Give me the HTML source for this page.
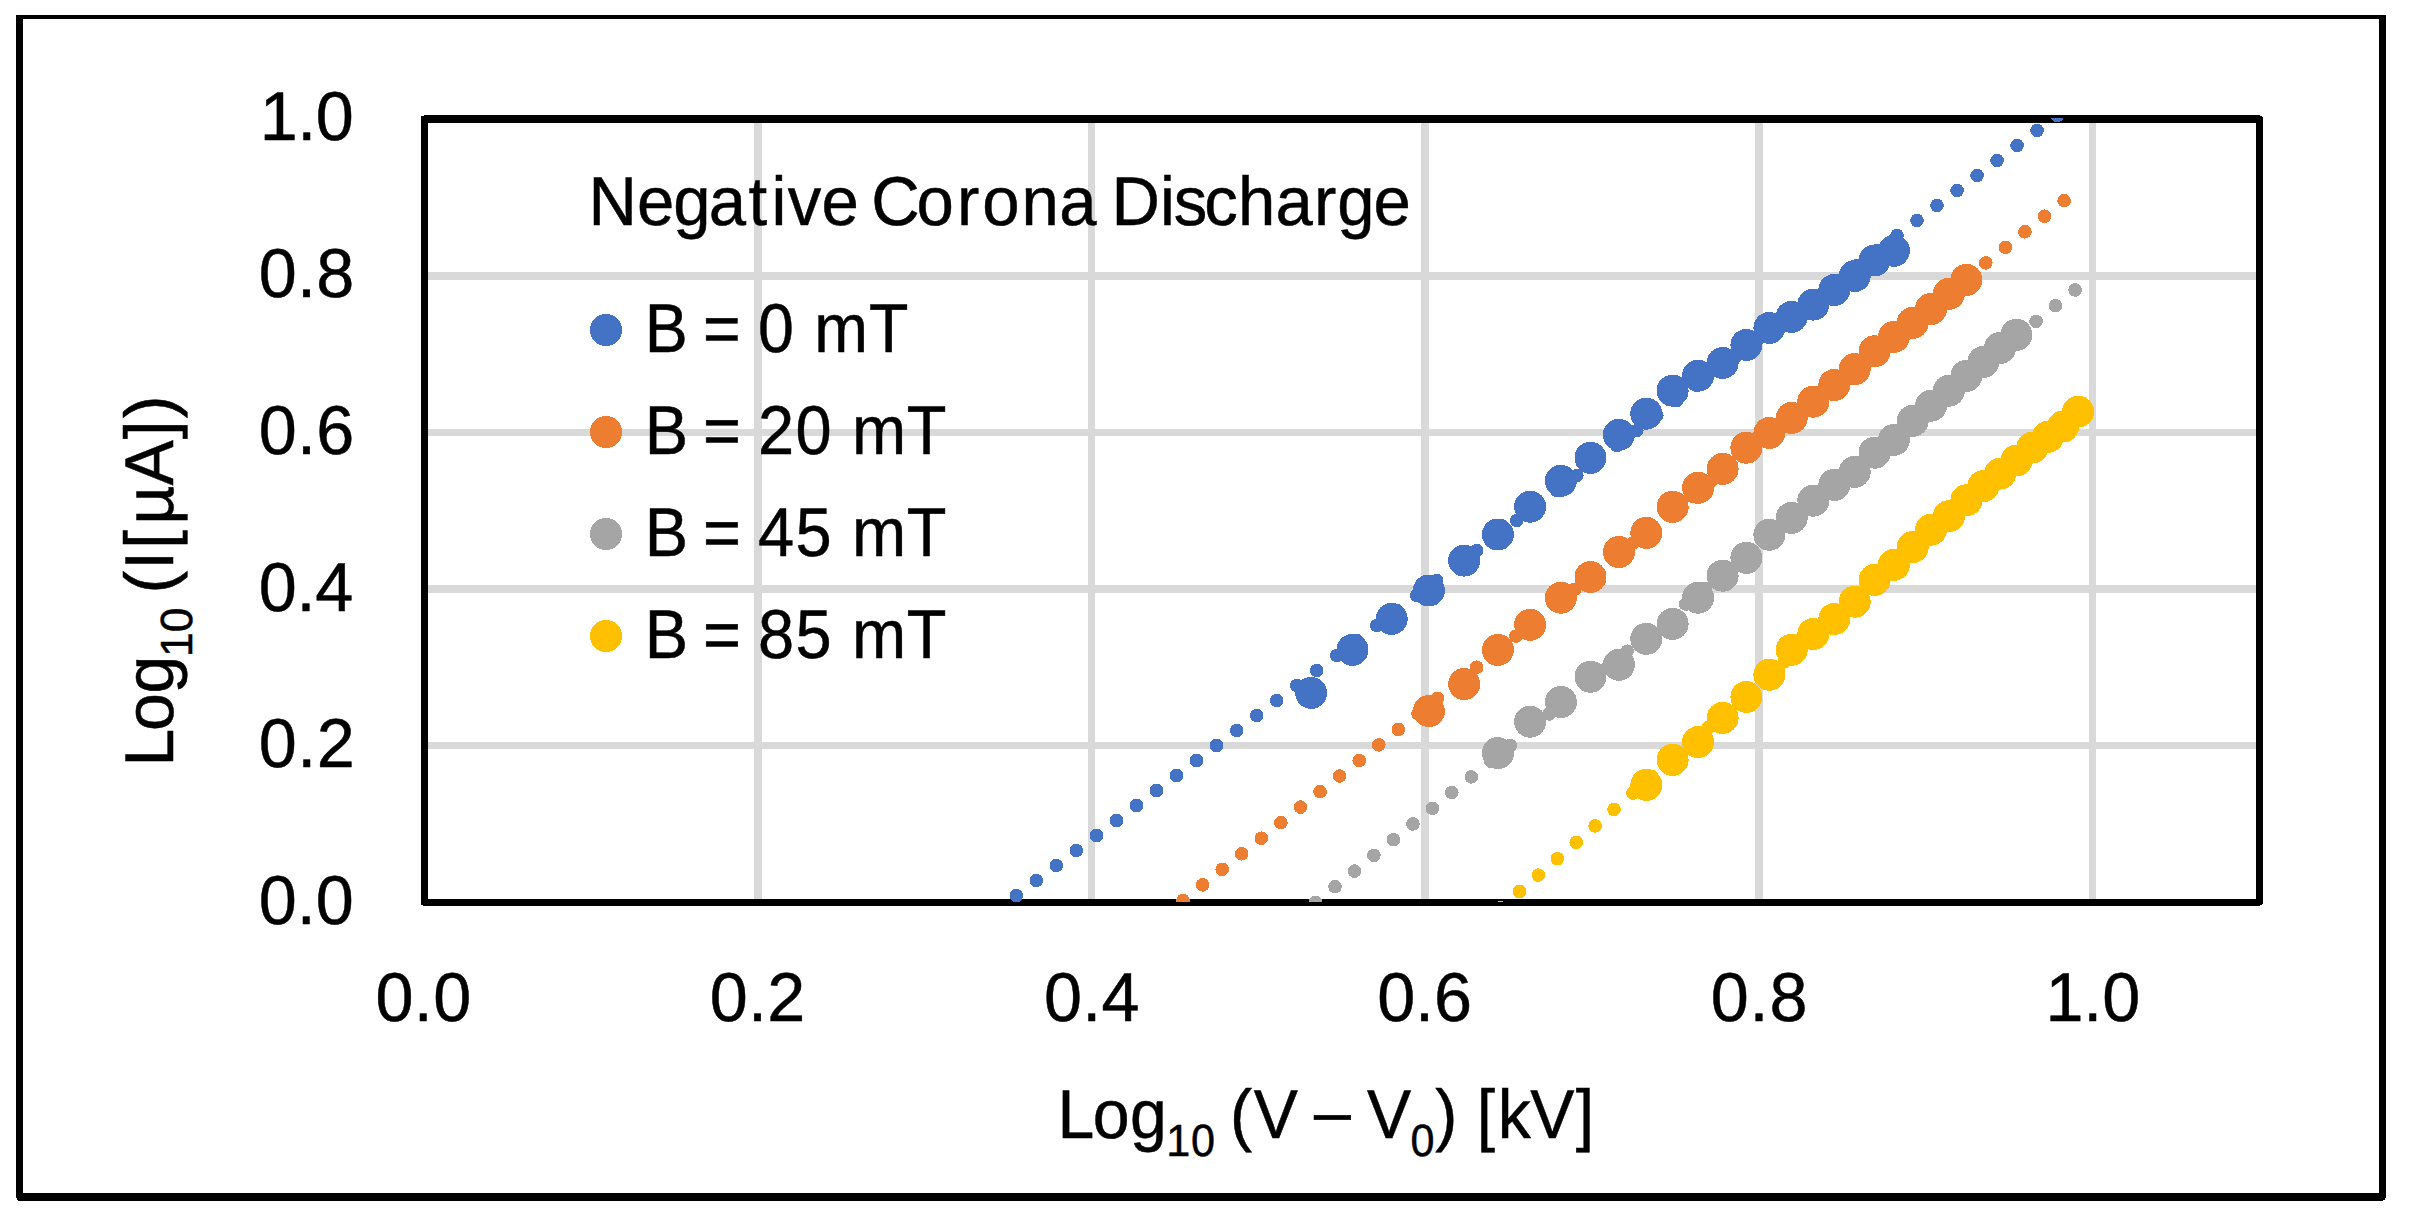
<!DOCTYPE html>
<html lang="en"><head><meta charset="utf-8"><title>Negative Corona Discharge</title>
<style>
html,body{margin:0;padding:0;background:#fff;}
body{width:2412px;height:1222px;overflow:hidden;}
svg{display:block;}
circle{shape-rendering:crispEdges;}
text{font-family:"Liberation Sans", sans-serif;fill:#000;stroke:#000;stroke-width:0.5px;white-space:pre;text-rendering:geometricPrecision;}
</style></head><body>
<svg width="2412" height="1222" viewBox="0 0 2412 1222">
<rect width="2412" height="1222" fill="#fff"/>
<path fill="#000" fill-rule="evenodd" shape-rendering="crispEdges" d="M16 15H2386V1198H2385V1200H2383V1201H18V1200H17V1198H16Z M23 19H2379V1193H23Z"/>
<g fill="#D9D9D9">
<rect x="754" y="123" width="8" height="776"/>
<rect x="1088" y="123" width="7" height="776"/>
<rect x="1421" y="123" width="8" height="776"/>
<rect x="1755" y="123" width="8" height="776"/>
<rect x="2089" y="123" width="7" height="776"/>
<rect x="428" y="272" width="1828" height="8"/>
<rect x="428" y="429" width="1828" height="7"/>
<rect x="428" y="585" width="1828" height="8"/>
<rect x="428" y="742" width="1828" height="7"/>
</g>
<path fill="#000" fill-rule="evenodd" shape-rendering="crispEdges" d="M424 115H2260V116H2262V117H2263V904H2262V905H2260V906H423V905H421V116H424Z M428 123H2256V899H428Z"/>
<defs><clipPath id="pc"><rect x="424" y="118" width="1836" height="784"/></clipPath></defs>
<g fill="#4472C4">
<circle cx="1311.1" cy="692.9" r="16.0"/>
<circle cx="1352.5" cy="649.9" r="16.0"/>
<circle cx="1391.7" cy="618.9" r="16.0"/>
<circle cx="1428.9" cy="590.5" r="16.0"/>
<circle cx="1464.2" cy="560.6" r="16.0"/>
<circle cx="1497.9" cy="534.5" r="16.0"/>
<circle cx="1530.1" cy="506.7" r="16.0"/>
<circle cx="1560.9" cy="480.8" r="16.0"/>
<circle cx="1590.5" cy="457.8" r="16.0"/>
<circle cx="1618.9" cy="434.8" r="16.0"/>
<circle cx="1646.3" cy="413.7" r="16.0"/>
<circle cx="1672.6" cy="390.7" r="16.0"/>
<circle cx="1698.1" cy="375.7" r="16.0"/>
<circle cx="1722.6" cy="363.0" r="16.0"/>
<circle cx="1746.4" cy="345.0" r="16.0"/>
<circle cx="1769.4" cy="328.0" r="16.0"/>
<circle cx="1791.7" cy="316.8" r="16.0"/>
<circle cx="1813.3" cy="304.6" r="16.0"/>
<circle cx="1834.3" cy="290.0" r="16.0"/>
<circle cx="1854.7" cy="276.0" r="16.0"/>
<circle cx="1874.6" cy="260.5" r="16.0"/>
<circle cx="1893.9" cy="250.8" r="16.0"/>
</g>
<g fill="#ED7D31">
<circle cx="1428.9" cy="711.1" r="16.0"/>
<circle cx="1464.2" cy="684.0" r="16.0"/>
<circle cx="1497.9" cy="649.9" r="16.0"/>
<circle cx="1530.1" cy="624.8" r="16.0"/>
<circle cx="1560.9" cy="597.7" r="16.0"/>
<circle cx="1590.5" cy="577.0" r="16.0"/>
<circle cx="1618.9" cy="552.0" r="16.0"/>
<circle cx="1646.3" cy="532.9" r="16.0"/>
<circle cx="1672.6" cy="506.8" r="16.0"/>
<circle cx="1698.1" cy="487.8" r="16.0"/>
<circle cx="1722.6" cy="468.9" r="16.0"/>
<circle cx="1746.4" cy="447.7" r="16.0"/>
<circle cx="1769.4" cy="433.0" r="16.0"/>
<circle cx="1791.7" cy="417.9" r="16.0"/>
<circle cx="1813.3" cy="401.7" r="16.0"/>
<circle cx="1834.3" cy="385.0" r="16.0"/>
<circle cx="1854.7" cy="369.1" r="16.0"/>
<circle cx="1874.6" cy="351.3" r="16.0"/>
<circle cx="1893.9" cy="336.9" r="16.0"/>
<circle cx="1912.7" cy="322.8" r="16.0"/>
<circle cx="1931.0" cy="308.9" r="16.0"/>
<circle cx="1948.9" cy="293.8" r="16.0"/>
<circle cx="1966.4" cy="279.9" r="16.0"/>
</g>
<g fill="#A5A5A5">
<circle cx="1497.9" cy="753.1" r="16.0"/>
<circle cx="1530.1" cy="721.7" r="16.0"/>
<circle cx="1560.9" cy="702.0" r="16.0"/>
<circle cx="1590.5" cy="676.7" r="16.0"/>
<circle cx="1618.9" cy="664.8" r="16.0"/>
<circle cx="1646.3" cy="638.8" r="16.0"/>
<circle cx="1672.6" cy="623.9" r="16.0"/>
<circle cx="1698.1" cy="597.7" r="16.0"/>
<circle cx="1722.6" cy="575.7" r="16.0"/>
<circle cx="1746.4" cy="557.8" r="16.0"/>
<circle cx="1769.4" cy="534.7" r="16.0"/>
<circle cx="1791.7" cy="517.8" r="16.0"/>
<circle cx="1813.3" cy="500.7" r="16.0"/>
<circle cx="1834.3" cy="484.9" r="16.0"/>
<circle cx="1854.7" cy="471.8" r="16.0"/>
<circle cx="1874.6" cy="452.7" r="16.0"/>
<circle cx="1893.9" cy="439.9" r="16.0"/>
<circle cx="1912.7" cy="420.9" r="16.0"/>
<circle cx="1931.0" cy="405.7" r="16.0"/>
<circle cx="1948.9" cy="390.7" r="16.0"/>
<circle cx="1966.4" cy="375.9" r="16.0"/>
<circle cx="1983.4" cy="362.0" r="16.0"/>
<circle cx="2000.1" cy="347.9" r="16.0"/>
<circle cx="2016.4" cy="334.8" r="16.0"/>
</g>
<g fill="#FFC000">
<circle cx="1646.3" cy="784.9" r="16.0"/>
<circle cx="1672.6" cy="759.8" r="16.0"/>
<circle cx="1698.1" cy="742.1" r="16.0"/>
<circle cx="1722.6" cy="717.9" r="16.0"/>
<circle cx="1746.4" cy="697.0" r="16.0"/>
<circle cx="1769.4" cy="674.7" r="16.0"/>
<circle cx="1791.7" cy="649.7" r="16.0"/>
<circle cx="1813.3" cy="634.0" r="16.0"/>
<circle cx="1834.3" cy="619.0" r="16.0"/>
<circle cx="1854.7" cy="601.7" r="16.0"/>
<circle cx="1874.6" cy="579.9" r="16.0"/>
<circle cx="1893.9" cy="564.8" r="16.0"/>
<circle cx="1912.7" cy="547.0" r="16.0"/>
<circle cx="1931.0" cy="529.7" r="16.0"/>
<circle cx="1948.9" cy="516.2" r="16.0"/>
<circle cx="1966.4" cy="500.3" r="16.0"/>
<circle cx="1983.4" cy="486.1" r="16.0"/>
<circle cx="2000.1" cy="473.6" r="16.0"/>
<circle cx="2016.4" cy="460.5" r="16.0"/>
<circle cx="2032.3" cy="447.6" r="16.0"/>
<circle cx="2047.9" cy="436.8" r="16.0"/>
<circle cx="2063.1" cy="426.5" r="16.0"/>
<circle cx="2078.1" cy="411.6" r="16.0"/>
</g>
<g clip-path="url(#pc)">
<g fill="#4472C4">
<circle cx="1016.4" cy="895.5" r="6.8"/>
<circle cx="1036.4" cy="880.5" r="6.8"/>
<circle cx="1056.4" cy="865.5" r="6.8"/>
<circle cx="1076.4" cy="850.5" r="6.8"/>
<circle cx="1096.5" cy="835.5" r="6.8"/>
<circle cx="1116.5" cy="820.5" r="6.8"/>
<circle cx="1136.5" cy="805.5" r="6.8"/>
<circle cx="1156.5" cy="790.5" r="6.8"/>
<circle cx="1176.5" cy="775.5" r="6.8"/>
<circle cx="1196.5" cy="760.5" r="6.8"/>
<circle cx="1216.5" cy="745.5" r="6.8"/>
<circle cx="1236.6" cy="730.5" r="6.8"/>
<circle cx="1256.6" cy="715.5" r="6.8"/>
<circle cx="1276.6" cy="700.5" r="6.8"/>
<circle cx="1296.6" cy="685.5" r="6.8"/>
<circle cx="1316.6" cy="670.5" r="6.8"/>
<circle cx="1336.6" cy="655.5" r="6.8"/>
<circle cx="1356.6" cy="640.5" r="6.8"/>
<circle cx="1376.7" cy="625.5" r="6.8"/>
<circle cx="1396.7" cy="610.5" r="6.8"/>
<circle cx="1416.7" cy="595.5" r="6.8"/>
<circle cx="1436.7" cy="580.5" r="6.8"/>
<circle cx="1456.7" cy="565.5" r="6.8"/>
<circle cx="1476.7" cy="550.5" r="6.8"/>
<circle cx="1496.7" cy="535.5" r="6.8"/>
<circle cx="1516.8" cy="520.5" r="6.8"/>
<circle cx="1536.8" cy="505.5" r="6.8"/>
<circle cx="1556.8" cy="490.5" r="6.8"/>
<circle cx="1576.8" cy="475.5" r="6.8"/>
<circle cx="1596.8" cy="460.5" r="6.8"/>
<circle cx="1616.8" cy="445.5" r="6.8"/>
<circle cx="1636.8" cy="430.5" r="6.8"/>
<circle cx="1656.8" cy="415.5" r="6.8"/>
<circle cx="1676.9" cy="400.5" r="6.8"/>
<circle cx="1696.9" cy="385.5" r="6.8"/>
<circle cx="1716.9" cy="370.5" r="6.8"/>
<circle cx="1736.9" cy="355.5" r="6.8"/>
<circle cx="1756.9" cy="340.5" r="6.8"/>
<circle cx="1776.9" cy="325.5" r="6.8"/>
<circle cx="1796.9" cy="310.5" r="6.8"/>
<circle cx="1817.0" cy="295.5" r="6.8"/>
<circle cx="1837.0" cy="280.5" r="6.8"/>
<circle cx="1857.0" cy="265.5" r="6.8"/>
<circle cx="1877.0" cy="250.5" r="6.8"/>
<circle cx="1897.0" cy="235.5" r="6.8"/>
<circle cx="1917.0" cy="220.5" r="6.8"/>
<circle cx="1937.0" cy="205.5" r="6.8"/>
<circle cx="1957.1" cy="190.5" r="6.8"/>
<circle cx="1977.1" cy="175.5" r="6.8"/>
<circle cx="1997.1" cy="160.5" r="6.8"/>
<circle cx="2017.1" cy="145.5" r="6.8"/>
<circle cx="2037.1" cy="130.5" r="6.8"/>
<circle cx="2057.1" cy="115.5" r="6.8"/>
</g>
<g fill="#ED7D31">
<circle cx="1183.0" cy="900.4" r="6.8"/>
<circle cx="1202.6" cy="884.9" r="6.8"/>
<circle cx="1222.2" cy="869.3" r="6.8"/>
<circle cx="1241.7" cy="853.8" r="6.8"/>
<circle cx="1261.3" cy="838.2" r="6.8"/>
<circle cx="1280.9" cy="822.7" r="6.8"/>
<circle cx="1300.5" cy="807.1" r="6.8"/>
<circle cx="1320.1" cy="791.6" r="6.8"/>
<circle cx="1339.6" cy="776.0" r="6.8"/>
<circle cx="1359.2" cy="760.5" r="6.8"/>
<circle cx="1378.8" cy="744.9" r="6.8"/>
<circle cx="1398.4" cy="729.4" r="6.8"/>
<circle cx="1418.0" cy="713.8" r="6.8"/>
<circle cx="1437.5" cy="698.3" r="6.8"/>
<circle cx="1457.1" cy="682.7" r="6.8"/>
<circle cx="1476.7" cy="667.2" r="6.8"/>
<circle cx="1496.3" cy="651.6" r="6.8"/>
<circle cx="1515.9" cy="636.1" r="6.8"/>
<circle cx="1535.4" cy="620.5" r="6.8"/>
<circle cx="1555.0" cy="605.0" r="6.8"/>
<circle cx="1574.6" cy="589.4" r="6.8"/>
<circle cx="1594.2" cy="573.9" r="6.8"/>
<circle cx="1613.8" cy="558.3" r="6.8"/>
<circle cx="1633.3" cy="542.8" r="6.8"/>
<circle cx="1652.9" cy="527.2" r="6.8"/>
<circle cx="1672.5" cy="511.7" r="6.8"/>
<circle cx="1692.1" cy="496.1" r="6.8"/>
<circle cx="1711.7" cy="480.6" r="6.8"/>
<circle cx="1731.2" cy="465.0" r="6.8"/>
<circle cx="1750.8" cy="449.5" r="6.8"/>
<circle cx="1770.4" cy="433.9" r="6.8"/>
<circle cx="1790.0" cy="418.4" r="6.8"/>
<circle cx="1809.6" cy="402.8" r="6.8"/>
<circle cx="1829.1" cy="387.3" r="6.8"/>
<circle cx="1848.7" cy="371.7" r="6.8"/>
<circle cx="1868.3" cy="356.2" r="6.8"/>
<circle cx="1887.9" cy="340.6" r="6.8"/>
<circle cx="1907.5" cy="325.1" r="6.8"/>
<circle cx="1927.0" cy="309.5" r="6.8"/>
<circle cx="1946.6" cy="294.0" r="6.8"/>
<circle cx="1966.2" cy="278.4" r="6.8"/>
<circle cx="1985.8" cy="262.9" r="6.8"/>
<circle cx="2005.4" cy="247.3" r="6.8"/>
<circle cx="2024.9" cy="231.8" r="6.8"/>
<circle cx="2044.5" cy="216.2" r="6.8"/>
<circle cx="2064.1" cy="200.7" r="6.8"/>
</g>
<g fill="#A5A5A5">
<circle cx="1315.5" cy="902.5" r="6.8"/>
<circle cx="1335.0" cy="886.8" r="6.8"/>
<circle cx="1354.5" cy="871.1" r="6.8"/>
<circle cx="1373.9" cy="855.4" r="6.8"/>
<circle cx="1393.4" cy="839.7" r="6.8"/>
<circle cx="1412.9" cy="824.0" r="6.8"/>
<circle cx="1432.4" cy="808.3" r="6.8"/>
<circle cx="1451.8" cy="792.6" r="6.8"/>
<circle cx="1471.3" cy="776.9" r="6.8"/>
<circle cx="1490.8" cy="761.2" r="6.8"/>
<circle cx="1510.3" cy="745.5" r="6.8"/>
<circle cx="1529.7" cy="729.7" r="6.8"/>
<circle cx="1549.2" cy="714.0" r="6.8"/>
<circle cx="1568.7" cy="698.3" r="6.8"/>
<circle cx="1588.2" cy="682.6" r="6.8"/>
<circle cx="1607.7" cy="666.9" r="6.8"/>
<circle cx="1627.1" cy="651.2" r="6.8"/>
<circle cx="1646.6" cy="635.5" r="6.8"/>
<circle cx="1666.1" cy="619.8" r="6.8"/>
<circle cx="1685.6" cy="604.1" r="6.8"/>
<circle cx="1705.0" cy="588.4" r="6.8"/>
<circle cx="1724.5" cy="572.7" r="6.8"/>
<circle cx="1744.0" cy="557.0" r="6.8"/>
<circle cx="1763.5" cy="541.3" r="6.8"/>
<circle cx="1782.9" cy="525.6" r="6.8"/>
<circle cx="1802.4" cy="509.9" r="6.8"/>
<circle cx="1821.9" cy="494.2" r="6.8"/>
<circle cx="1841.4" cy="478.5" r="6.8"/>
<circle cx="1860.9" cy="462.8" r="6.8"/>
<circle cx="1880.3" cy="447.1" r="6.8"/>
<circle cx="1899.8" cy="431.4" r="6.8"/>
<circle cx="1919.3" cy="415.6" r="6.8"/>
<circle cx="1938.8" cy="399.9" r="6.8"/>
<circle cx="1958.2" cy="384.2" r="6.8"/>
<circle cx="1977.7" cy="368.5" r="6.8"/>
<circle cx="1997.2" cy="352.8" r="6.8"/>
<circle cx="2016.7" cy="337.1" r="6.8"/>
<circle cx="2036.1" cy="321.4" r="6.8"/>
<circle cx="2055.6" cy="305.7" r="6.8"/>
<circle cx="2075.1" cy="290.0" r="6.8"/>
</g>
<g fill="#FFC000">
<circle cx="1500.6" cy="907.9" r="6.8"/>
<circle cx="1519.5" cy="891.5" r="6.8"/>
<circle cx="1538.4" cy="875.1" r="6.8"/>
<circle cx="1557.3" cy="858.7" r="6.8"/>
<circle cx="1576.2" cy="842.3" r="6.8"/>
<circle cx="1595.1" cy="825.9" r="6.8"/>
<circle cx="1614.0" cy="809.5" r="6.8"/>
<circle cx="1632.9" cy="793.1" r="6.8"/>
<circle cx="1651.8" cy="776.7" r="6.8"/>
<circle cx="1670.7" cy="760.3" r="6.8"/>
<circle cx="1689.6" cy="743.9" r="6.8"/>
<circle cx="1708.5" cy="727.5" r="6.8"/>
<circle cx="1727.4" cy="711.1" r="6.8"/>
<circle cx="1746.3" cy="694.7" r="6.8"/>
<circle cx="1765.2" cy="678.3" r="6.8"/>
<circle cx="1784.1" cy="661.9" r="6.8"/>
<circle cx="1803.0" cy="645.5" r="6.8"/>
<circle cx="1821.9" cy="629.1" r="6.8"/>
<circle cx="1840.8" cy="612.7" r="6.8"/>
<circle cx="1859.7" cy="596.3" r="6.8"/>
<circle cx="1878.6" cy="579.9" r="6.8"/>
<circle cx="1897.5" cy="563.5" r="6.8"/>
<circle cx="1916.4" cy="547.1" r="6.8"/>
<circle cx="1935.3" cy="530.7" r="6.8"/>
<circle cx="1954.2" cy="514.3" r="6.8"/>
<circle cx="1973.1" cy="497.9" r="6.8"/>
<circle cx="1992.0" cy="481.5" r="6.8"/>
<circle cx="2010.9" cy="465.1" r="6.8"/>
<circle cx="2029.8" cy="448.7" r="6.8"/>
<circle cx="2048.7" cy="432.3" r="6.8"/>
<circle cx="2067.6" cy="415.9" r="6.8"/>
</g>
</g>
<g>
<text xml:space="preserve" transform="translate(0,140.30) scale(0.9899,1)"><tspan x="262.52 300.34 318.96" dy="0.00" font-size="69.0">1.0</tspan></text>
<text xml:space="preserve" transform="translate(0,297.30) scale(0.9899,1)"><tspan x="261.50 300.05 319.40" dy="0.00" font-size="69.0">0.8</tspan></text>
<text xml:space="preserve" transform="translate(0,454.10) scale(0.9899,1)"><tspan x="261.50 300.05 319.40" dy="0.00" font-size="69.0">0.6</tspan></text>
<text xml:space="preserve" transform="translate(0,610.70) scale(0.9899,1)"><tspan x="261.50 299.54 318.37" dy="0.00" font-size="69.0">0.4</tspan></text>
<text xml:space="preserve" transform="translate(0,767.30) scale(0.9899,1)"><tspan x="261.50 300.31 319.92" dy="0.00" font-size="69.0">0.2</tspan></text>
<text xml:space="preserve" transform="translate(0,924.00) scale(0.9899,1)"><tspan x="261.50 299.88 319.06" dy="0.00" font-size="69.0">0.0</tspan></text>
<text xml:space="preserve" transform="translate(0,1021.00) scale(0.9899,1)"><tspan x="379.39 418.07 437.55" dy="0.00" font-size="69.0">0.0</tspan></text>
<text xml:space="preserve" transform="translate(0,1021.00) scale(0.9899,1)"><tspan x="717.09 755.69 775.10" dy="0.00" font-size="69.0">0.2</tspan></text>
<text xml:space="preserve" transform="translate(0,1021.00) scale(0.9899,1)"><tspan x="1054.78 1093.32 1112.66" dy="0.00" font-size="69.0">0.4</tspan></text>
<text xml:space="preserve" transform="translate(0,1021.00) scale(0.9899,1)"><tspan x="1391.26 1429.52 1448.57" dy="0.00" font-size="69.0">0.6</tspan></text>
<text xml:space="preserve" transform="translate(0,1021.00) scale(0.9899,1)"><tspan x="1728.16 1767.42 1787.47" dy="0.00" font-size="69.0">0.8</tspan></text>
<text xml:space="preserve" transform="translate(0,1021.00) scale(0.9899,1)"><tspan x="2066.27 2104.64 2123.82" dy="0.00" font-size="69.0">1.0</tspan></text>
</g>
<text xml:space="preserve" transform="translate(0,225.00) scale(0.9715,1)"><tspan x="605.85 655.63 692.94 729.54 770.51 794.18 810.85 845.49 882.98 896.91 943.51 984.96 1011.02 1051.59 1090.30 1127.07 1144.17 1193.97 1208.30 1239.67 1274.27 1312.98 1352.58 1376.45 1413.77" dy="0.00" font-size="69.0">Negative Corona Discharge</tspan></text>
<circle cx="606" cy="330" r="16" fill="#4472C4"/>
<text xml:space="preserve" transform="translate(0,352.00) scale(0.9349,1)"><tspan x="689.67 733.67 751.85 791.16 810.66 849.36 870.89 929.62" dy="0.00" font-size="69.0">B = 0 mT</tspan></text>
<circle cx="606" cy="432" r="16" fill="#ED7D31"/>
<text xml:space="preserve" transform="translate(0,454.00) scale(0.9416,1)"><tspan x="684.75 728.54 746.54 785.66 804.96 844.94 883.45 904.72 963.11" dy="0.00" font-size="69.0">B = 20 mT</tspan></text>
<circle cx="606" cy="534" r="16" fill="#A5A5A5"/>
<text xml:space="preserve" transform="translate(0,556.00) scale(0.9416,1)"><tspan x="684.75 728.54 746.54 785.66 804.96 844.94 883.45 904.72 963.11" dy="0.00" font-size="69.0">B = 45 mT</tspan></text>
<circle cx="606" cy="636" r="16" fill="#FFC000"/>
<text xml:space="preserve" transform="translate(0,658.00) scale(0.9416,1)"><tspan x="684.75 728.54 746.54 785.66 804.96 844.94 883.45 904.72 963.11" dy="0.00" font-size="69.0">B = 85 mT</tspan></text>
<text xml:space="preserve" transform="translate(0,1137.80) scale(0.9585,1)"><tspan x="1103.23 1140.13 1179.00" dy="0.00" font-size="69.0">Log</tspan><tspan x="1216.83 1242.48" dy="18.20" font-size="45.0">10</tspan><tspan x="1267.04 1283.14 1308.11 1352.41" dy="-18.20" font-size="69.0"> (V </tspan><tspan x="1371.01" dy="-3.20" font-size="69.0">–</tspan><tspan x="1408.81 1426.26" dy="3.20" font-size="69.0"> V</tspan><tspan x="1471.66" dy="18.20" font-size="45.0">0</tspan><tspan x="1497.32 1519.83 1540.58 1562.55 1596.57 1644.01" dy="-18.20" font-size="69.0">) [kV]</tspan></text>
<g transform="translate(172.8,761) rotate(-90)">
<text xml:space="preserve" transform="translate(0,0.00) scale(0.9844,1)"><tspan x="-5.69 30.44 68.49" dy="0.00" font-size="69.0">Log</tspan><tspan x="105.67 130.79" dy="19.00" font-size="45.0">10</tspan><tspan x="154.90 170.12 194.21 215.50 239.90 279.78 326.96 348.31" dy="-19.00" font-size="69.0"> (I[µA])</tspan></text>
</g>
</svg></body></html>
